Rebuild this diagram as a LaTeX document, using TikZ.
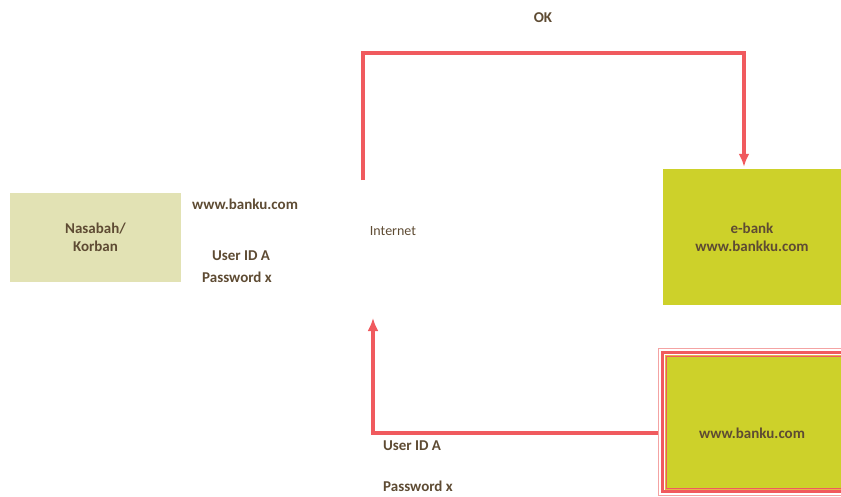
\documentclass[tikz,border=0pt]{standalone}
\usepackage{fontspec}
\setmainfont{Carlito}
\usetikzlibrary{positioning,arrows.meta}
\definecolor{txtbrown}{HTML}{5E4B33}
\definecolor{linkred}{HTML}{F05A5E}
\definecolor{lightred}{HTML}{F4A3A3}
\definecolor{paleolive}{HTML}{E2E2B4}
\definecolor{olive}{HTML}{CDD12A}
\definecolor{framegold}{HTML}{E9B24A}
\tikzset{
	lbl/.style={text=txtbrown,font=\fontsize{15}{18}\selectfont\bfseries,align=center,inner sep=0pt},
	box/.style={lbl,anchor=center,inner sep=0pt},
	link/.style={linkred,line width=3.3pt,-{Latex[length=13pt,width=11pt]}},
}
\begin{document}
\begin{tikzpicture}[x=1pt,y=-1pt]
	\useasboundingbox (0,0) rectangle (841,496);
	\node[box,fill=paleolive,minimum width=171pt,minimum height=89pt] (nasabah) at (95.5,237.5) {Nasabah/\\Korban};
	\node[box,fill=olive,minimum width=178pt,minimum height=136pt] (ebank) at (752,237) {e-bank\\www.bankku.com};
	\node[box,draw=lightred,line width=1pt,minimum width=191.5pt,minimum height=147pt] (site) at (754.25,422) {};
	\fill[olive] ([shift={(9pt,-9pt)}]site.north west) rectangle ([shift={(-9pt,8pt)}]site.south east);
	\draw[linkred,line width=3pt] ([shift={(4.5pt,-4.5pt)}]site.north west) rectangle ([shift={(-4.5pt,4.5pt)}]site.south east);
	\draw[framegold,line width=1pt] ([shift={(7pt,-7pt)}]site.north west) rectangle ([shift={(-7pt,7pt)}]site.south east);
	\draw[linkred,line width=1pt] ([shift={(8.5pt,-8.5pt)}]site.north west) rectangle ([shift={(-8.5pt,8pt)}]site.south east);
	\node[lbl] (sitename) at (752,433) {www.banku.com};
	\node[lbl] (url) at (245,204) {www.banku.com};
	\node[lbl] (userA) at (241,256) {User ID A};
	\node[lbl] (passA) at (237,277) {Password x};
	\node[lbl,font=\fontsize{14}{17}\selectfont] (internet) at (393,231) {Internet};
	\node[lbl] (ok) at (543,18) {OK};
	\node[lbl] (userB) at (412,446) {User ID A};
	\node[lbl] (passB) at (418,486) {Password x};
	\coordinate (inettop) at (363,180);
	\coordinate (okturn) at (744,53);
	\coordinate (inetbot) at (373,318);
	\draw[link,shorten >=2pt] (inettop) |- (okturn) -- (okturn |- ebank.north);
	\draw[link] ([yshift=-11pt]site.west) -| (inetbot);
\end{tikzpicture}
\end{document}
